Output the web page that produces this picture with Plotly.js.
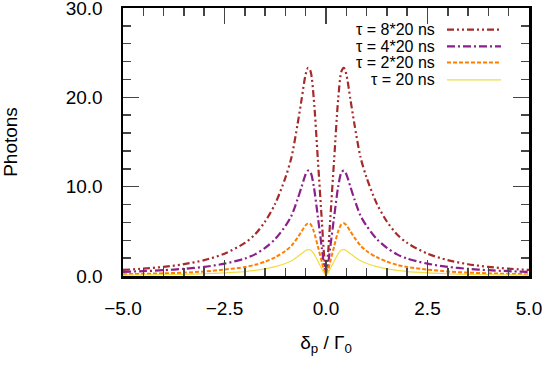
<!DOCTYPE html>
<html>
<head>
<meta charset="utf-8">
<script src="https://cdn.plot.ly/plotly-3.0.1.min.js"></script>
<style>
html,body{margin:0;padding:0;background:#fff;}
#chart{width:542px;height:365px;}
</style>
</head>
<body>
<div id="chart"></div>
<script>
// detuning delta_p / Gamma_0
const detuning = [-5,-4.5,-4,-3.5,-3,-2.5,-2,-1.75,-1.5,-1.25,-1,-0.85,-0.7,-0.6,-0.5,-0.44,-0.38,-0.3,-0.2,-0.1,-0.05,0,0.05,0.1,0.2,0.3,0.38,0.44,0.5,0.6,0.7,0.85,1,1.25,1.5,1.75,2,2.5,3,3.5,4,4.5,5];
// photons for each pulse duration
const tau8 = [0.68,0.82,1.02,1.32,1.78,2.5,3.7,4.65,6.1,8.1,11.0,13.3,17.0,19.8,22.6,23.3,22.9,19.8,13.0,6.0,2.5,0.6,2.5,6.0,13.0,19.8,22.9,23.3,22.6,19.8,17.0,13.3,11.0,8.1,6.1,4.65,3.7,2.5,1.78,1.32,1.02,0.82,0.68];
const tau4 = [0.46,0.54,0.65,0.8,1.02,1.38,1.95,2.42,3.15,4.15,5.6,6.75,8.6,10.0,11.4,11.8,11.6,10.0,6.6,3.05,1.3,0.4,1.3,3.05,6.6,10.0,11.6,11.8,11.4,10.0,8.6,6.75,5.6,4.15,3.15,2.42,1.95,1.38,1.02,0.8,0.65,0.54,0.46];
const tau2 = [0.2,0.24,0.3,0.38,0.5,0.72,1.0,1.25,1.6,2.1,2.8,3.4,4.3,5.0,5.7,5.9,5.8,5.0,3.3,1.55,0.65,0.2,0.65,1.55,3.3,5.0,5.8,5.9,5.7,5.0,4.3,3.4,2.8,2.1,1.6,1.25,1.0,0.72,0.5,0.38,0.3,0.24,0.2];
const tau1 = [0.1,0.12,0.15,0.19,0.25,0.36,0.5,0.62,0.8,1.05,1.4,1.7,2.15,2.5,2.85,2.95,2.9,2.5,1.65,0.78,0.33,0.1,0.33,0.78,1.65,2.5,2.9,2.95,2.85,2.5,2.15,1.7,1.4,1.05,0.8,0.62,0.5,0.36,0.25,0.19,0.15,0.12,0.1];

const seriesNames = ["τ = 8*20 ns","τ = 4*20 ns","τ = 2*20 ns","τ = 20 ns"];
const seriesData = [tau8, tau4, tau2, tau1];
const seriesColors = ["#a52a2a","#8b1f8b","#ff8000","#f2dc40"];
const seriesDash = ["7px,3px,2px,3px,2px,3px","8px,3px,2px,3px","4px,2px","solid"];
const seriesWidth = [2.2,2.2,2,1.2];

const xTickVals = [-5,-2.5,0,2.5,5];
const yTickVals = [0,10,20,30];

const FONT = "Liberation Sans, Arial, Helvetica, sans-serif";

const traces = seriesData.map((ys,i)=>({
  x: detuning, y: ys, type:"scatter", mode:"lines", name: seriesNames[i],
  line:{color:seriesColors[i], width:seriesWidth[i], dash:seriesDash[i], shape:"spline", smoothing:0.8},
  showlegend:false, hoverinfo:"skip"
}));

// manual legend (text left, sample right, as in reference)
const legX0 = 0.798, legX1 = 0.931, legTextX = 0.773;
const legY = [0.919,0.857,0.797,0.732];
const shapes = seriesNames.map((n,i)=>({
  type:"line", xref:"paper", yref:"paper", x0:legX0, x1:legX1, y0:legY[i], y1:legY[i],
  line:{color:seriesColors[i], width:seriesWidth[i], dash:seriesDash[i]}
}));
const annotations = seriesNames.map((n,i)=>({
  xref:"paper", yref:"paper", x:legTextX, y:legY[i], xanchor:"right", yanchor:"middle",
  text:n, showarrow:false, font:{family:FONT, size:16, color:"#000"}
}));

const layout = {
  width:542, height:365,
  margin:{l:123, r:13, t:8, b:89, pad:0},
  paper_bgcolor:"#fff", plot_bgcolor:"#fff",
  font:{family:FONT, size:19, color:"#000"},
  showlegend:false,
  xaxis:{
    range:[-5,5], tickvals:xTickVals, tickformat:".1f", ticklabeloverflow:"allow",
    ticks:"inside", ticklen:16, tickwidth:1.5, tickcolor:"#444",
    minor:{dtick:0.5, ticks:"inside", ticklen:8, tickwidth:1.5, tickcolor:"#444"},
    showline:true, linewidth:2.5, linecolor:"#000", mirror:"allticks",
    showgrid:false, zeroline:false, ticklabelstandoff:14,
    title:{text:"δ<sub>p</sub> / Γ<sub>0</sub>", font:{family:FONT, size:19}, standoff:18}
  },
  yaxis:{
    range:[0,30], tickvals:yTickVals, tickformat:".1f", ticklabeloverflow:"allow",
    ticks:"inside", ticklen:16, tickwidth:1.5, tickcolor:"#444",
    minor:{dtick:2, ticks:"inside", ticklen:8, tickwidth:1.5, tickcolor:"#444"},
    showline:true, linewidth:2.5, linecolor:"#000", mirror:"allticks",
    showgrid:false, zeroline:false, ticklabelstandoff:14,
    title:{text:"Photons", font:{family:FONT, size:19}, standoff:44}
  },
  shapes: shapes,
  annotations: annotations
};

Plotly.newPlot("chart", traces, layout, {staticPlot:true, displayModeBar:false});
</script>
</body>
</html>
